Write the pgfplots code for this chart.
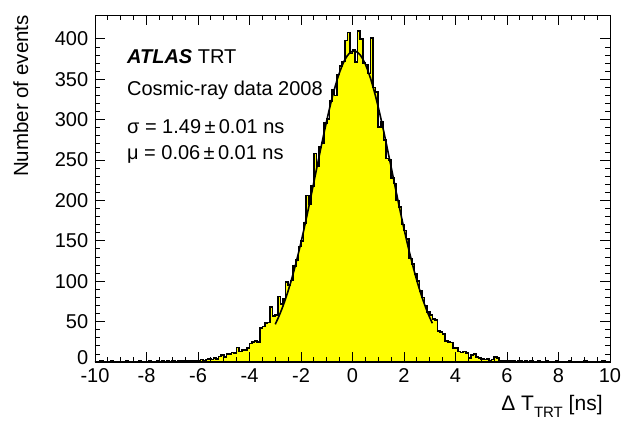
\documentclass[border=0pt]{standalone}
\usepackage{fontspec}
\setmainfont{Liberation Sans}
\usepackage{pgfplots}
\pgfplotsset{compat=1.18}
\definecolor{rootyellow}{RGB}{255,255,0}
\begin{document}
\fontsize{20}{24}\selectfont
\begin{tikzpicture}
\path[use as bounding box] (-95pt,-61pt) rectangle (527pt,362pt);
\begin{axis}[
  at={(0,0)}, anchor=south west,
  scale only axis, width=515pt, height=347pt,
  xmin=-10, xmax=10, ymin=0, ymax=429.5,
  xtick={-10,-8,...,10}, ytick={0,50,...,400},
  yticklabels={\raisebox{8pt}{0},50,100,150,200,250,300,350,400},
  minor x tick num=3, minor y tick num=4,
  tick align=inside, tick pos=both,
  major tick length=10pt, minor tick length=5pt,
  every tick/.style={black, line width=0.8pt},
  axis line style={line width=0.8pt},
  axis on top,
  tick label style={font=\fontsize{20}{24}\selectfont},
  /pgf/number format/assume math mode=true,
  xlabel={Δ T\raisebox{-0.3em}{\fontsize{15}{15}\selectfont TRT} [ns]},
  xlabel style={at={(axis description cs:0.986,-0.096)}, anchor=north east, inner sep=0pt, font=\fontsize{21}{25}\selectfont},
  ylabel={Number of events},
  ylabel style={at={(axis description cs:-0.159,1.0)}, anchor=north east, inner sep=0pt, font=\fontsize{20.5}{24}\selectfont},
]
\addplot[const plot, fill=rootyellow, draw=black, line width=1.6pt] coordinates {
(-10.0,0) (-9.9,0) (-9.8,1) (-9.7,0) (-9.6,0) (-9.5,0) (-9.4,1) (-9.3,0) (-9.2,0) (-9.1,0)
(-9.0,0) (-8.9,0) (-8.8,1) (-8.7,0) (-8.6,0) (-8.5,0) (-8.4,0) (-8.3,1) (-8.2,0) (-8.1,0)
(-8.0,0) (-7.9,1) (-7.8,0) (-7.7,0) (-7.6,1) (-7.5,0) (-7.4,1) (-7.3,0) (-7.2,1) (-7.1,0)
(-7.0,1) (-6.9,0) (-6.8,1) (-6.7,2) (-6.6,1) (-6.5,1) (-6.4,2) (-6.3,1) (-6.2,2) (-6.1,1)
(-6.0,2) (-5.9,3) (-5.8,2) (-5.7,3) (-5.6,4) (-5.5,3) (-5.4,5) (-5.3,4) (-5.2,7) (-5.1,9)
(-5.0,6) (-4.9,10) (-4.8,10) (-4.7,12) (-4.6,11) (-4.5,18) (-4.4,13) (-4.3,15) (-4.2,15) (-4.1,17)
(-4.0,23) (-3.9,25) (-3.8,26) (-3.7,25) (-3.6,42) (-3.5,44) (-3.4,48) (-3.3,49) (-3.2,68) (-3.1,57)
(-3.0,58) (-2.9,81) (-2.8,72) (-2.7,78) (-2.6,99) (-2.5,95) (-2.4,101) (-2.3,119) (-2.2,126) (-2.1,143)
(-2.0,150) (-1.9,172) (-1.8,206) (-1.7,195) (-1.6,218) (-1.5,258) (-1.4,242) (-1.3,266) (-1.2,271) (-1.1,296)
(-1.0,301) (-0.9,323) (-0.8,337) (-0.7,330) (-0.6,356) (-0.5,366) (-0.4,372) (-0.3,398) (-0.2,408) (-0.1,382)
(0.0,386) (0.1,371) (0.2,410) (0.3,400) (0.4,370) (0.5,368) (0.6,357) (0.7,401) (0.8,340) (0.9,334)
(1.0,291) (1.1,297) (1.2,275) (1.3,252) (1.4,250) (1.5,228) (1.6,221) (1.7,200) (1.8,192) (1.9,170)
(2.0,163) (2.1,152) (2.2,128) (2.3,121) (2.4,109) (2.5,100) (2.6,88) (2.7,80) (2.8,70) (2.9,62)
(3.0,58) (3.1,53) (3.2,52) (3.3,38) (3.4,37) (3.5,35) (3.6,26) (3.7,25) (3.8,24) (3.9,17)
(4.0,17) (4.1,13) (4.2,12) (4.3,13) (4.4,11) (4.5,5) (4.6,9) (4.7,10) (4.8,6) (4.9,5)
(5.0,4) (5.1,3) (5.2,4) (5.3,2) (5.4,3) (5.5,6) (5.6,5) (5.7,2) (5.8,2) (5.9,1)
(6.0,2) (6.1,1) (6.2,1) (6.3,0) (6.4,1) (6.5,1) (6.6,0) (6.7,1) (6.8,0) (6.9,1)
(7.0,0) (7.1,0) (7.2,1) (7.3,0) (7.4,0) (7.5,1) (7.6,0) (7.7,0) (7.8,0) (7.9,1)
(8.0,0) (8.1,0) (8.2,0) (8.3,0) (8.4,1) (8.5,0) (8.6,0) (8.7,0) (8.8,0) (8.9,0)
(9.0,1) (9.1,0) (9.2,0) (9.3,0) (9.4,0) (9.5,0) (9.6,0) (9.7,1) (9.8,0) (9.9,0)
(10.0,0)
} \closedcycle;
\addplot[black, line width=1.6pt] coordinates {
(-3.0,46.7) (-2.9,53.5) (-2.8,61.0) (-2.7,69.2) (-2.6,78.2) (-2.5,88.0) (-2.4,98.5) (-2.3,109.8)
(-2.2,121.9) (-2.1,134.6) (-2.0,148.0) (-1.9,162.1) (-1.8,176.6) (-1.7,191.6) (-1.6,207.0) (-1.5,222.6)
(-1.4,238.2) (-1.3,253.8) (-1.2,269.3) (-1.1,284.3) (-1.0,298.9) (-0.9,312.8) (-0.8,325.9) (-0.7,338.0)
(-0.6,349.0) (-0.5,358.7) (-0.4,367.1) (-0.3,373.9) (-0.2,379.2) (-0.1,382.8) (0.0,384.7) (0.06,385.0)
(0.1,384.9) (0.2,383.3) (0.3,380.0) (0.4,375.1) (0.5,368.6) (0.6,360.5) (0.7,351.1) (0.8,340.3)
(0.9,328.4) (1.0,315.5) (1.1,301.8) (1.2,287.3) (1.3,272.3) (1.4,256.9) (1.5,241.4) (1.6,225.7)
(1.7,210.1) (1.8,194.7) (1.9,179.6) (2.0,164.9) (2.1,150.8) (2.2,137.3) (2.3,124.4) (2.4,112.2)
(2.5,100.7) (2.6,90.0) (2.7,80.1) (2.8,71.0) (2.9,62.6) (3.0,55.0) (3.1,48.0)
};
\node[anchor=base west, inner sep=0pt] at (axis cs:-8.76,369) {\textbf{\textit{ATLAS}} TRT};
\node[anchor=base west, inner sep=0pt] at (axis cs:-8.76,330) {Cosmic-ray data 2008};
\node[anchor=base west, inner sep=0pt] at (axis cs:-8.76,283) {σ = 1.49\,±\,0.01 ns};
\node[anchor=base west, inner sep=0pt] at (axis cs:-8.76,250.5) {μ = 0.06\,±\,0.01 ns};
\end{axis}
\end{tikzpicture}
\end{document}
